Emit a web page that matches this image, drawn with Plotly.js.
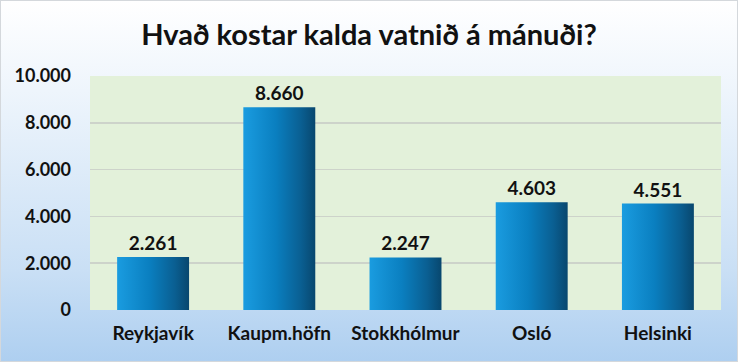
<!DOCTYPE html>
<html><head><meta charset="utf-8">
<script src="https://cdn.plot.ly/plotly-3.0.1.min.js"></script>
<style>
html,body{margin:0;padding:0;}
#wrap{width:736px;height:360px;border:1px solid #d4d8dc;background:linear-gradient(to bottom,#ffffff 0%,#eef5fc 25%,#c9dff5 75%,#aecff0 100%);}
#chart{width:736px;height:360px;}
</style></head><body>
<div id="wrap"><div id="chart"></div></div>
<script>
const categories = ["Reykjavík", "Kaupm.höfn", "Stokkhólmur", "Osló", "Helsinki"];
const values = [2261, 8660, 2247, 4603, 4551];
const tickVals = [0, 2000, 4000, 6000, 8000, 10000];
const titleText = "Hvað kostar kalda vatnið á mánuði?";
const FONT = "Lato, 'Open Sans', sans-serif";

const trace = {
  type: "bar",
  x: categories,
  y: values,
  marker: {color: "#0b7bbd", line: {width: 0}},
  texttemplate: "%{y:,}",
  textposition: "outside",
  cliponaxis: false,
  textfont: {family: FONT, size: 19, color: "#111", weight: 700},
  hoverinfo: "none"
};
const layout = {
  width: 736, height: 360,
  margin: {l: 89, r: 16, t: 75, b: 51},
  paper_bgcolor: "rgba(0,0,0,0)",
  plot_bgcolor: "#e3f1da",
  separators: ",.",
  bargap: 0.43,
  showlegend: false,
  title: {text: titleText, x: 0.5, xanchor: "center", y: 0.905, yanchor: "middle",
          font: {family: FONT, size: 29, color: "#111", weight: 700}},
  xaxis: {tickfont: {family: FONT, size: 19, color: "#111", weight: 700}, showgrid: false,
          showline: false, ticks: "", ticklen: 0, ticklabelstandoff: 10},
  yaxis: {range: [0, 10000], tickvals: tickVals, tickformat: ",", showgrid: true,
          gridcolor: "#cdd3ca", gridwidth: 1.5, zeroline: false, showline: false,
          tickfont: {family: FONT, size: 18, color: "#111", weight: 700}, ticklen: 0, ticks: "",
          ticklabelstandoff: 18}
};
Plotly.newPlot("chart", [trace], layout, {staticPlot: true}).then(() => {
  const svg = document.querySelector("#chart svg.main-svg");
  const ns = "http://www.w3.org/2000/svg";
  let defs = svg.querySelector("defs");
  if (!defs) { defs = document.createElementNS(ns, "defs"); svg.insertBefore(defs, svg.firstChild); }
  const g = document.createElementNS(ns, "linearGradient");
  g.setAttribute("id", "barGrad");
  g.setAttribute("x1", "0"); g.setAttribute("y1", "0"); g.setAttribute("x2", "1"); g.setAttribute("y2", "0");
  [["0", "#1a9ce0"], ["0.45", "#0a7fc0"], ["0.8", "#0a5f92"], ["1", "#08476e"]].forEach(([o, c]) => {
    const s = document.createElementNS(ns, "stop");
    s.setAttribute("offset", o); s.setAttribute("stop-color", c);
    g.appendChild(s);
  });
  defs.appendChild(g);
  document.querySelectorAll("#chart .bars path").forEach(p => {
    p.style.fill = "url(#barGrad)";
  });
});
</script>
</body></html>
